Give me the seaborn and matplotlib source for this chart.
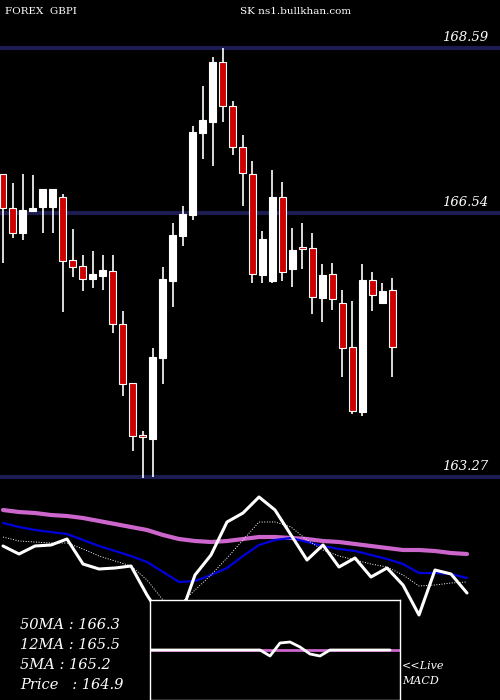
import numpy as np
import pandas as pd
import seaborn as sns
import matplotlib
matplotlib.use("Agg")
import matplotlib.pyplot as plt

# candles
opens  = [167.03,166.61,166.30,166.57,166.62,166.62,166.75,165.96,165.89,165.73,
          165.76,165.82,165.17,164.44,163.79,163.74,164.75,165.70,166.26,166.52,
          167.54,167.68,168.42,167.88,167.36,167.03,165.78,165.70,166.75,165.85,
          166.12,166.11,165.49,165.79,165.43,164.88,164.08,165.71,165.43,165.59]
closes = [166.61,166.30,166.58,166.61,166.84,166.84,165.95,165.87,165.73,165.79,
          165.84,165.17,164.42,163.78,163.77,164.76,165.73,166.27,166.53,167.55,
          167.70,168.42,167.88,167.36,167.04,165.79,166.22,166.74,165.81,166.09,
          166.10,165.50,165.78,165.48,164.87,164.09,165.71,165.53,165.58,164.88]
highs  = [167.03,166.92,167.03,167.02,166.84,166.84,166.78,166.35,166.02,166.07,
          166.02,166.02,165.33,164.44,163.84,164.87,165.87,166.42,166.63,167.62,
          168.12,168.48,168.60,167.93,167.51,167.19,166.32,167.08,166.93,166.36,
          166.42,166.30,165.91,165.92,165.59,165.45,165.91,165.81,165.68,165.74]
lows   = [165.92,166.23,166.21,166.57,166.30,166.30,165.32,165.75,165.58,165.61,
          165.59,165.06,164.27,163.59,163.26,163.27,164.42,165.38,166.13,166.46,
          167.21,167.13,167.67,167.26,166.63,165.68,165.68,165.68,165.70,165.63,
          165.85,165.29,165.19,165.34,164.51,164.05,164.03,165.33,165.42,164.51]
levels = [168.59, 166.54, 163.27]

# lower panel lines (pixel levels, smaller = higher)
price_line = [546,554,546,545,539,564,569,568,566,595,620,620,575,555,522,513,497,510,535,560,
              545,567,558,577,568,585,615,570,574,593]
ma_blue    = [523,527,530,532,534,540,546,551,556,562,572,582,581,575,568,556,545,540,538,542,
              546,549,551,555,559,564,573,573,574,578]
ma_pink    = [510,512,513,515,516,518,521,524,527,530,535,539,541,542,541,539,537,537,538,539,
              541,542,544,546,548,550,550,551,553,554]
ma_dotted  = [537,541,542,543,543,549,556,561,566,580,600,605,590,575,558,540,522,522,527,540,
              550,556,560,564,567,575,586,585,583,582]
macd   = [0,0,0,0,0,0,0,0,0,0,0,0,-6,7,8,3,-4,-6,0,0,0,0,0,0,0]
signal = [0]*26

sns.set_style("dark", {"axes.facecolor": "black", "figure.facecolor": "black"})
fig = plt.figure(figsize=(5, 7), dpi=100)
fig.patch.set_facecolor("black")

# top candle panel
ax = fig.add_axes([0, 220/700, 1, 480/700])
ax.set_facecolor("black")
df = pd.DataFrame({"o": opens, "c": closes, "h": highs, "l": lows})
df["i"] = np.arange(len(df))
for lv in levels:
    ax.axhline(lv, color="#1c1c50", lw=3, zorder=1)
ax.vlines(df["i"], df["l"], df["h"], color="white", lw=1.2, zorder=2)
up = df["c"] >= df["o"]
ax.bar(df["i"], (df["c"] - df["o"]).abs(), bottom=df[["o", "c"]].min(axis=1), width=0.7,
       color=np.where(up, "white", "#cc0000"), edgecolor="white", lw=0.8, zorder=3)
ax.set_xlim(-0.3, 49.8)
ax.set_ylim(163.23, 169.19)
ax.axis("off")
for lv in levels:
    ax.annotate(f"{lv:.2f}", xy=(488/500, lv), xycoords=("axes fraction", "data"), xytext=(0, 3),
                textcoords="offset points", color="white", fontsize=9.5, family="DejaVu Serif",
                style="italic", ha="right", va="bottom")
ax.text(5/500, 1 - 12/480, "FOREX  GBPI", transform=ax.transAxes, color="white", fontsize=7.5,
        family="DejaVu Serif", va="center")
ax.text(240/500, 1 - 12/480, "SK ns1.bullkhan.com", transform=ax.transAxes, color="white",
        fontsize=7.5, family="DejaVu Serif", va="center")

# lower panel
ax2 = fig.add_axes([0, 0, 1, 220/700])
ax2.set_facecolor("black")
k = np.arange(len(price_line))
sns.lineplot(x=k, y=ma_pink, ax=ax2, color="#cc66cc", lw=3)
sns.lineplot(x=k, y=ma_blue, ax=ax2, color="#0000dd", lw=1.6)
sns.lineplot(x=k, y=ma_dotted, ax=ax2, color="white", lw=0.7, linestyle=":")
sns.lineplot(x=k, y=price_line, ax=ax2, color="white", lw=2.2)
ax2.set_xlim(-3/16, 497/16)
ax2.set_ylim(700, 480)
ax2.axis("off")
for j, t in enumerate(["50MA : 166.3", "12MA : 165.5", "5MA : 165.2", "Price   : 164.9"]):
    ax2.text(20/500, 1 - (145 + 20*j)/220, t, transform=ax2.transAxes, color="white",
             fontsize=10.5, family="DejaVu Serif", style="italic", va="center")
ax2.text(402/500, 1 - 186/220, "<<Live", transform=ax2.transAxes, color="white", fontsize=8,
         family="DejaVu Serif", style="italic", va="center")
ax2.text(402/500, 1 - 201/220, "MACD", transform=ax2.transAxes, color="white", fontsize=8,
         family="DejaVu Serif", style="italic", va="center")

# MACD inset
ax3 = fig.add_axes([150/500, 0, 250/500, 100/700])
ax3.set_facecolor("black")
sns.lineplot(x=np.arange(len(signal)), y=signal, ax=ax3, color="#cc66cc", lw=2)
sns.lineplot(x=np.arange(len(macd)), y=macd, ax=ax3, color="white", lw=2)
ax3.set_xlim(0, 25)
ax3.set_ylim(-50, 50)
ax3.set_xticks([]); ax3.set_yticks([])
for s in ax3.spines.values():
    s.set_color("white"); s.set_linewidth(1)
ax3.set_zorder(5)

fig.savefig("out.png", dpi=100, facecolor="black")
